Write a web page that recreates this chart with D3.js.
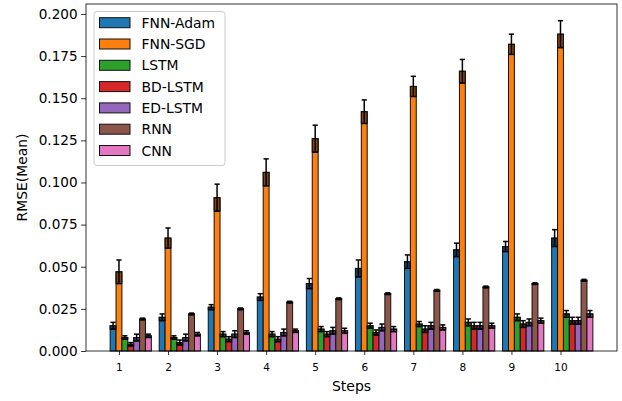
<!DOCTYPE html>
<html>
<head>
<meta charset="utf-8">
<script src="https://cdnjs.cloudflare.com/ajax/libs/d3/7.8.5/d3.min.js"></script>
<style>
  body { margin: 0; background: #fff; }
  text { font-family: "DejaVu Sans", sans-serif; }
</style>
</head>
<body>
<div class="canvas"></div>
<script>
var steps = ["1", "2", "3", "4", "5", "6", "7", "8", "9", "10"];
var models = ["FNN-Adam", "FNN-SGD", "LSTM", "BD-LSTM", "ED-LSTM", "RNN", "CNN"];
var colors = ["#1f77b4", "#ff7f0e", "#2ca02c", "#d62728", "#9467bd", "#8c564b", "#e377c2"];
var yTicks = [0, 0.025, 0.05, 0.075, 0.1, 0.125, 0.15, 0.175, 0.2];

// mean RMSE per model, one value per step
var fnnAdam = [0.015, 0.020, 0.026, 0.032, 0.040, 0.049, 0.053, 0.060, 0.062, 0.067];
var fnnSgd  = [0.047, 0.067, 0.091, 0.106, 0.126, 0.142, 0.157, 0.166, 0.182, 0.188];
var lstm    = [0.008, 0.008, 0.010, 0.010, 0.013, 0.015, 0.016, 0.017, 0.020, 0.022];
var bdLstm  = [0.004, 0.005, 0.007, 0.007, 0.010, 0.011, 0.013, 0.015, 0.016, 0.018];
var edLstm  = [0.008, 0.008, 0.010, 0.011, 0.012, 0.014, 0.015, 0.015, 0.017, 0.018];
var rnn     = [0.019, 0.022, 0.025, 0.029, 0.031, 0.034, 0.036, 0.038, 0.040, 0.042];
var cnn     = [0.009, 0.010, 0.011, 0.012, 0.012, 0.013, 0.014, 0.015, 0.018, 0.022];

// std (error bar half length)
var fnnAdamErr = [0.002, 0.002, 0.0015, 0.002, 0.003, 0.005, 0.004, 0.004, 0.003, 0.005];
var fnnSgdErr  = [0.007, 0.006, 0.008, 0.008, 0.008, 0.007, 0.006, 0.007, 0.006, 0.008];
var lstmErr    = [0.001, 0.001, 0.0015, 0.0015, 0.0015, 0.0015, 0.0015, 0.002, 0.002, 0.002];
var bdLstmErr  = [0.001, 0.0015, 0.0015, 0.0015, 0.0015, 0.0015, 0.002, 0.002, 0.002, 0.002];
var edLstmErr  = [0.002, 0.002, 0.002, 0.002, 0.002, 0.002, 0.002, 0.002, 0.002, 0.002];
var rnnErr     = [0.0005, 0.0005, 0.0005, 0.0005, 0.0005, 0.0005, 0.0005, 0.0005, 0.0005, 0.0005];
var cnnErr     = [0.001, 0.001, 0.001, 0.001, 0.0015, 0.0015, 0.0015, 0.0015, 0.0015, 0.002];

var means = [fnnAdam, fnnSgd, lstm, bdLstm, edLstm, rnn, cnn];
var errs = [fnnAdamErr, fnnSgdErr, lstmErr, bdLstmErr, edLstmErr, rnnErr, cnnErr];

var width = 622, height = 401;
var margin = {left: 86, top: 4, right: 5, bottom: 50};
var barW = 0.12;

var svg = d3.select(".canvas").append("svg")
    .attr("width", width)
    .attr("height", height);

// x in "step index" units, bar i of group k sits at k + i*barW (like matplotlib)
var x = d3.scaleLinear()
    .domain([-0.552, 10.272])
    .range([margin.left, width - margin.right]);
var y = d3.scaleLinear()
    .domain([0, 0.2059])
    .range([height - margin.bottom, margin.top]);

var rows = [];
means.forEach(function(series, m) {
    series.forEach(function(v, k) {
        rows.push({m: m, k: k, v: v, e: errs[m][k]});
    });
});

var bars = svg.append("g");
bars.selectAll("rect.bar")
    .data(rows)
    .enter()
    .append("rect")
    .attr("class", "bar")
    .attr("x", function(d) { return x(d.k + d.m * barW - barW / 2); })
    .attr("width", function(d) { return x(barW) - x(0); })
    .attr("y", function(d) { return y(d.v); })
    .attr("height", function(d) { return y(0) - y(d.v); })
    .attr("fill", function(d) { return colors[d.m]; })
    .attr("stroke", "#111")
    .attr("stroke-width", 1);

// darker band under the mean (lower half of the error bar)
bars.selectAll("rect.band")
    .data(rows)
    .enter()
    .append("rect")
    .attr("x", function(d) { return x(d.k + d.m * barW - barW / 2); })
    .attr("width", function(d) { return x(barW) - x(0); })
    .attr("y", function(d) { return y(d.v); })
    .attr("height", function(d) { return y(Math.max(0, d.v - d.e)) - y(d.v); })
    .attr("fill", "#000")
    .attr("fill-opacity", 0.45)
    .attr("stroke", "#111")
    .attr("stroke-width", 1);

var eb = svg.append("g").attr("stroke", "#000").attr("stroke-width", 1.5);
eb.selectAll("line.v")
    .data(rows)
    .enter()
    .append("line")
    .attr("x1", function(d) { return x(d.k + d.m * barW); })
    .attr("x2", function(d) { return x(d.k + d.m * barW); })
    .attr("y1", function(d) { return y(Math.max(0, d.v - d.e)); })
    .attr("y2", function(d) { return y(d.v + d.e); });
["lo", "hi"].forEach(function(side) {
    eb.selectAll("line.c" + side)
        .data(rows)
        .enter()
        .append("line")
        .attr("x1", function(d) { return x(d.k + d.m * barW) - 2.6; })
        .attr("x2", function(d) { return x(d.k + d.m * barW) + 2.6; })
        .attr("y1", function(d) { return side == "hi" ? y(d.v + d.e) : y(Math.max(0, d.v - d.e)); })
        .attr("y2", function(d) { return side == "hi" ? y(d.v + d.e) : y(Math.max(0, d.v - d.e)); });
});

// axes
var xAxis = d3.axisBottom(x)
    .tickValues(steps.map(function(s, i) { return i + barW; }))
    .tickFormat(function(d, i) { return steps[i]; })
    .tickSize(4).tickPadding(8.5);
var yAxis = d3.axisLeft(y)
    .tickValues(yTicks)
    .tickFormat(d3.format(".3f"))
    .tickSize(4.9).tickPadding(3.5);

var gx = svg.append("g")
    .attr("transform", "translate(0," + y(0) + ")")
    .call(xAxis);
var gy = svg.append("g")
    .attr("transform", "translate(" + margin.left + ",0)")
    .call(yAxis);
[gx, gy].forEach(function(g) {
    g.select(".domain").remove();
    g.selectAll("line").attr("stroke", "#000").attr("stroke-width", 0.8);
    g.selectAll("text").attr("fill", "#000")
        .style("font-family", "DejaVu Sans");
});
gx.selectAll("text").attr("font-size", "10.5px");
gy.selectAll("text").attr("font-size", "13.6px");

// frame
svg.append("rect")
    .attr("x", margin.left)
    .attr("y", margin.top)
    .attr("width", width - margin.right - margin.left)
    .attr("height", y(0) - margin.top)
    .attr("fill", "none")
    .attr("stroke", "#000")
    .attr("stroke-width", 0.8);

svg.append("text")
    .attr("x", (margin.left + width - margin.right) / 2)
    .attr("y", 391)
    .attr("text-anchor", "middle")
    .attr("font-size", "14px")
    .text("Steps");
svg.append("text")
    .attr("transform", "translate(27," + (margin.top + y(0)) / 2 + ") rotate(-90)")
    .attr("text-anchor", "middle")
    .attr("font-size", "13.9px")
    .text("RMSE(Mean)");

// legend
var legend = svg.append("g").attr("transform", "translate(94,11.5)");
legend.append("rect")
    .attr("width", 131)
    .attr("height", 154)
    .attr("rx", 3)
    .attr("fill", "#fff")
    .attr("fill-opacity", 0.8)
    .attr("stroke", "#ccc")
    .attr("stroke-width", 1);
var items = legend.selectAll("g.item")
    .data(models)
    .enter()
    .append("g")
    .attr("transform", function(d, i) { return "translate(0," + (11.2 + i * 21.3) + ")"; });
items.append("rect")
    .attr("x", 5.5)
    .attr("y", -5)
    .attr("width", 30.5)
    .attr("height", 10)
    .attr("fill", function(d, i) { return colors[i]; })
    .attr("stroke", "#111")
    .attr("stroke-width", 1);
items.append("text")
    .attr("x", 47.5)
    .attr("y", 5)
    .attr("font-size", "13.9px")
    .text(function(d) { return d; });
</script>
</body>
</html>
